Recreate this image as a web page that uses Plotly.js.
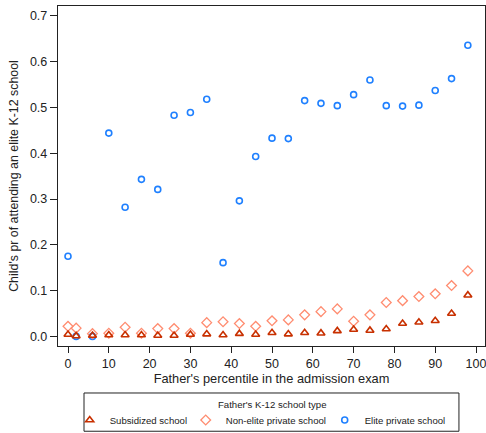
<!DOCTYPE html>
<html>
<head>
<meta charset="utf-8">
<script src="https://cdn.plot.ly/plotly-3.0.1.min.js"></script>
<style>html,body{margin:0;padding:0;background:#fff;}#chart{width:486px;height:433px;}</style>
</head>
<body>
<div id="chart"></div>
<script>
const percentile = [0, 2, 6, 10, 14, 18, 22, 26, 30, 34, 38, 42, 46, 50, 54, 58, 62, 66, 70, 74, 78, 82, 86, 90, 94, 98];
const subsidized = [0.004, 0.001, 0.002, 0.003, 0.003, 0.003, 0.002, 0.002, 0.004, 0.005, 0.003, 0.006, 0.004, 0.008, 0.005, 0.008, 0.007, 0.012, 0.015, 0.013, 0.016, 0.028, 0.031, 0.034, 0.050, 0.090];
const nonElite = [0.022, 0.018, 0.006, 0.007, 0.020, 0.007, 0.017, 0.017, 0.007, 0.030, 0.032, 0.028, 0.022, 0.034, 0.036, 0.047, 0.054, 0.060, 0.033, 0.047, 0.074, 0.078, 0.087, 0.093, 0.111, 0.143];
const elite = [0.175, 0.000, 0.000, 0.444, 0.282, 0.343, 0.321, 0.483, 0.489, 0.518, 0.161, 0.296, 0.393, 0.433, 0.432, 0.515, 0.509, 0.504, 0.528, 0.560, 0.504, 0.503, 0.505, 0.537, 0.563, 0.636];
const seriesNames = ["Subsidized school", "Non-elite private school", "Elite private school"];
const legendTitle = "Father's K-12 school type";
const xTicks = [0, 10, 20, 30, 40, 50, 60, 70, 80, 90, 100];
const yTicks = [0, 0.1, 0.2, 0.3, 0.4, 0.5, 0.6, 0.7];

const FONT = "Liberation Sans, Arial, sans-serif";
const LFONT = {size: 9.6, family: FONT, color: "#222"};
const traces = [
  {x: percentile, y: elite, name: seriesNames[2], type: "scatter", mode: "markers", cliponaxis: false, legend: "legend3",
   marker: {symbol: "circle-open", size: 6, color: "#1f80ff", line: {width: 1.6, color: "#1f80ff"}}},
  {x: percentile, y: nonElite, name: seriesNames[1], type: "scatter", mode: "markers", cliponaxis: false, legend: "legend2",
   marker: {symbol: "diamond-open", size: 7.5, color: "#ff8c70", line: {width: 1.3, color: "#ff8c70"}}},
  {x: percentile, y: subsidized, name: seriesNames[0], type: "scatter", mode: "markers", cliponaxis: false, legend: "legend",
   marker: {symbol: "triangle-up-open", size: 7, color: "#c83000", line: {width: 1.6, color: "#c83000"}}}
];

function leg(px) {
  return {
    orientation: "h", x: (px - 58) / 427, xanchor: "left", xref: "paper",
    y: 1 - 420 / 433, yanchor: "middle", yref: "container",
    borderwidth: 0, bgcolor: "rgba(0,0,0,0)", font: LFONT, itemclick: false
  };
}

const layout = {
  width: 486, height: 433,
  margin: {l: 58, r: 1, t: 5.5, b: 87.3, pad: 0},
  paper_bgcolor: "#ffffff", plot_bgcolor: "#ffffff",
  font: {family: FONT, size: 12, color: "#222"},
  showlegend: true,
  xaxis: {
    range: [-2.45, 102.2], tickvals: xTicks, ticktext: xTicks.map(String),
    showgrid: false, zeroline: false, showline: true, mirror: true,
    linecolor: "#222", linewidth: 1.2, automargin: false, ticklabeloverflow: "allow",
    ticks: "outside", ticklen: 6, tickwidth: 1, tickcolor: "#222",
    tickfont: {size: 12.5, family: FONT, color: "#222"},
    title: {text: "Father's percentile in the admission exam", font: {size: 12.8, family: FONT, color: "#222"}, standoff: 1}
  },
  yaxis: {
    range: [-0.021, 0.7216], tickvals: yTicks, ticktext: yTicks.map(v => v.toFixed(1)),
    showgrid: false, zeroline: false, showline: true, mirror: true,
    linecolor: "#222", linewidth: 1.2, automargin: false,
    ticks: "outside", ticklen: 7, tickwidth: 1, tickcolor: "#222",
    tickfont: {size: 12.5, family: FONT, color: "#222"},
    title: {text: "Child's pr of attending an elite K-12 school", font: {size: 12.4, family: FONT, color: "#222"}, standoff: 8}
  },
  shapes: [
    {type: "rect", xref: "paper", yref: "paper", x0: 0.0609, x1: 0.939, y0: -0.2507, y1: -0.1382,
     line: {color: "#222", width: 1}, fillcolor: "rgba(0,0,0,0)", layer: "above"}
  ],
  annotations: [
    {text: legendTitle, xref: "paper", yref: "paper", x: 0.5, y: -0.1714, xanchor: "center", yanchor: "middle",
     showarrow: false, font: LFONT}
  ],
  legend: leg(92.7 - 23),
  legend2: leg(211.7 - 26),
  legend3: leg(354.7 - 30)
};

Plotly.newPlot("chart", traces, layout, {displayModeBar: false, staticPlot: true});
</script>
</body>
</html>
